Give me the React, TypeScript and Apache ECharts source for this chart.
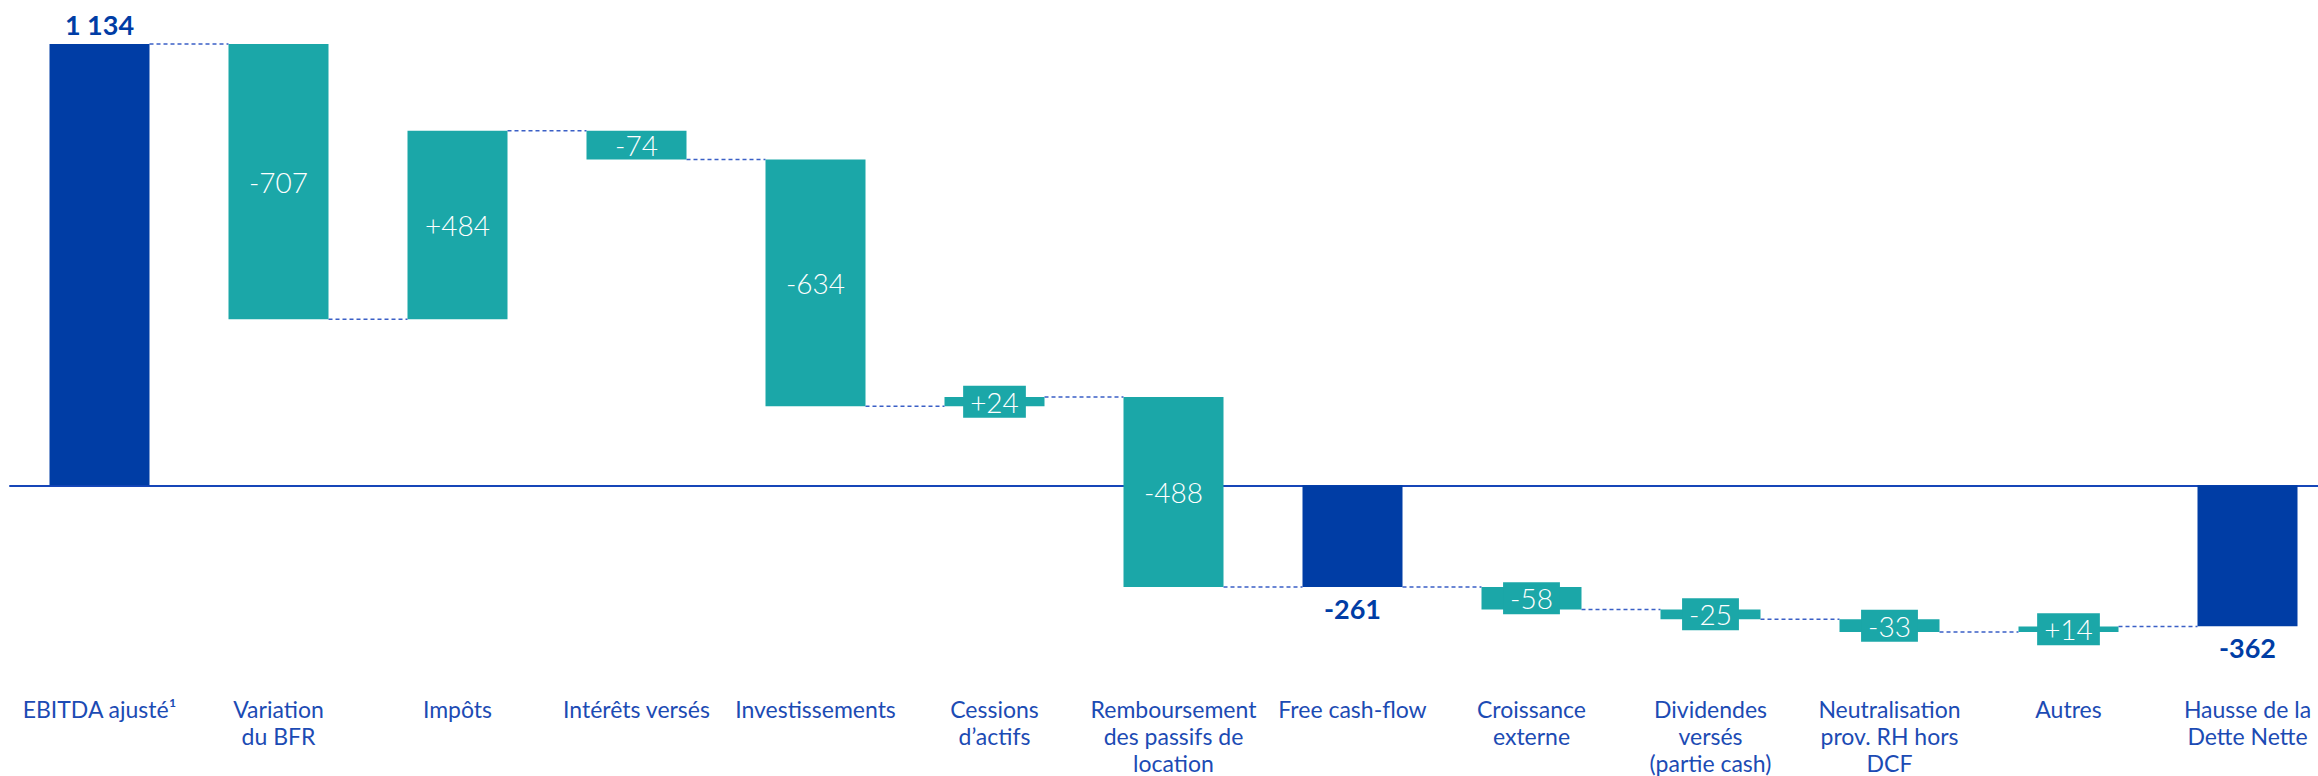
import React, { useEffect, useRef } from "react";
import * as echarts from "echarts";

const categories = [
  "EBITDA ajusté¹",
  "Variation\ndu BFR",
  "Impôts",
  "Intérêts versés",
  "Investissements",
  "Cessions\nd’actifs",
  "Remboursement\ndes passifs de\nlocation",
  "Free cash-flow",
  "Croissance\nexterne",
  "Dividendes\nversés\n(partie cash)",
  "Neutralisation\nprov. RH hors\nDCF",
  "Autres",
  "Hausse de la\nDette Nette",
];
const values = [1134, -707, 484, -74, -634, 24, -488, -261, -58, -25, -33, 14, -362];
const isTotal = [true, false, false, false, false, false, false, true, false, false, false, false, true];
const valueLabels = ["1 134", "-707", "+484", "-74", "-634", "+24", "-488", "-261", "-58", "-25", "-33", "+14", "-362"];

const BLUE = "#003DA5";
const TEAL = "#1BA7A8";
const LABEL_BLUE = "#1C4BB4";
const BAR_RATIO = 100 / 179;

export default function App() {
  const ref = useRef<HTMLDivElement>(null);
  useEffect(() => {
    if (!ref.current) return;
    const chart = echarts.init(ref.current, null, { renderer: "svg" });

    const starts: number[] = [];
    const ends: number[] = [];
    let running = 0;
    values.forEach((v, i) => {
      if (isTotal[i]) {
        starts.push(0);
        ends.push(v);
        running = v;
      } else {
        starts.push(running);
        ends.push(running + v);
        running += v;
      }
    });
    const barData = values.map((_, i) => [i, starts[i], ends[i]]);
    const connData = values.slice(0, -1).map((_, i) => [i, ends[i]]);

    chart.setOption({
      animation: false,
      grid: { left: 10, top: 44, right: 3, height: 1534 * (444 / 1134) },
      xAxis: [
        {
          type: "category",
          data: categories,
          position: "bottom",
          axisLine: { show: false, onZero: false },
          axisTick: { show: false },
          axisLabel: {
            interval: 0,
            margin: 54,
            color: LABEL_BLUE,
            fontFamily: "Lato",
            fontSize: 23,
            lineHeight: 27,
            align: "center",
          },
        },
        {
          type: "category",
          data: categories,
          position: "top",
          axisLine: { show: true, onZero: true, lineStyle: { color: "#1646B8", width: 2 } },
          axisTick: { show: false },
          axisLabel: { show: false },
        },
      ],
      yAxis: { type: "value", min: -400, max: 1134, show: false, splitLine: { show: false } },
      series: [
        {
          type: "custom",
          data: connData,
          z: 1,
          renderItem: (params: any, api: any) => {
            const i = api.value(0);
            const lvl = api.value(1);
            const p = api.coord([i, lvl]);
            const band = api.size([1, 0])[0];
            const bw = band * BAR_RATIO;
            return {
              type: "line",
              shape: { x1: p[0] + bw / 2, y1: p[1], x2: p[0] + band - bw / 2, y2: p[1] },
              style: { stroke: "#3A5FC6", lineWidth: 1.5, lineDash: [4, 3] },
            };
          },
        },
        {
          type: "custom",
          data: barData,
          z: 2,
          renderItem: (params: any, api: any) => {
            const idx = params.dataIndex;
            const i = api.value(0);
            const s = api.value(1);
            const e = api.value(2);
            const a = api.coord([i, s]);
            const b = api.coord([i, e]);
            const band = api.size([1, 0])[0];
            const bw = band * BAR_RATIO;
            const top = Math.min(a[1], b[1]);
            const h = Math.max(Math.abs(a[1] - b[1]), 1);
            const total = isTotal[idx];
            const children: any[] = [
              {
                type: "rect",
                shape: { x: a[0] - bw / 2, y: top, width: bw, height: h },
                style: { fill: total ? BLUE : TEAL },
              },
            ];
            if (total) {
              const above = values[idx] > 0;
              children.push({
                type: "text",
                style: {
                  text: valueLabels[idx],
                  x: a[0],
                  y: above ? top - 6 : top + h + 8,
                  align: "center",
                  verticalAlign: above ? "bottom" : "top",
                  fill: BLUE,
                  fontFamily: "Lato",
                  fontWeight: "bold",
                  fontSize: 27,
                },
                z2: 10,
              });
            } else {
              const small = Math.abs(values[idx]) < 60;
              const st: any = {
                text: valueLabels[idx],
                x: a[0],
                y: top + h / 2,
                align: "center",
                verticalAlign: "middle",
                fill: "#ffffff",
                fontFamily: "Lato",
                fontWeight: 300,
                fontSize: 28,
                lineHeight: 28,
              };
              if (small) {
                st.backgroundColor = TEAL;
                st.padding = [2, 7];
              }
              children.push({ type: "text", style: st, z2: 10 });
            }
            return { type: "group", children };
          },
        },
      ],
    });
    return () => chart.dispose();
  }, []);
  return (
    <div
      style={{ position: "absolute", left: 0, top: 0, width: 2318, height: 776, overflow: "hidden", background: "#fff" }}
    >
      <div ref={ref} style={{ width: 2340, height: 776 }} />
    </div>
  );
}
